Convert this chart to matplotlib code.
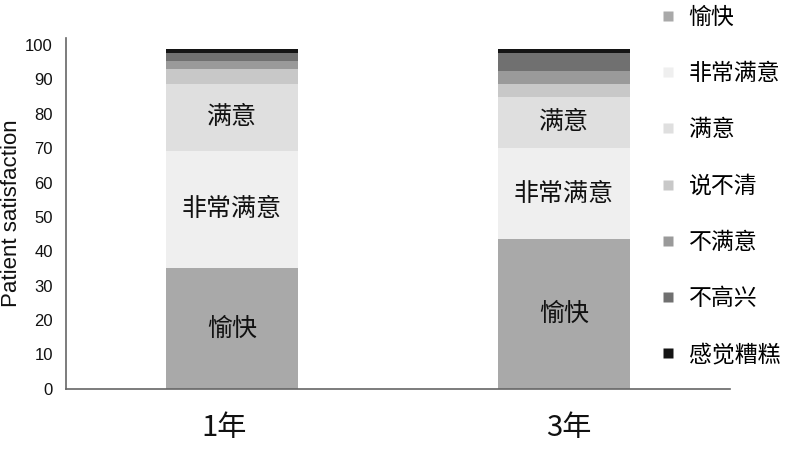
import matplotlib
matplotlib.use("Agg")
import matplotlib.pyplot as plt
from matplotlib.lines import Line2D
from matplotlib.transforms import ScaledTranslation
import numpy as np

plt.rcParams['font.family'] = ['Liberation Sans', 'Noto Sans CJK SC', 'DejaVu Sans']

years = ["1年", "3年"]
categories = ["愉快", "非常满意", "满意", "说不清", "不满意", "不高兴", "感觉糟糕"]
values_1yr = [35.1, 34.2, 19.4, 4.2, 2.4, 2.3, 1.2]
values_3yr = [43.6, 26.4, 15.0, 3.7, 3.8, 5.1, 1.2]
colors = ["#a9a9a9", "#efefef", "#dfdfdf", "#c8c8c8", "#9a9a9a", "#707070", "#141414"]
labelled = ["愉快", "非常满意", "满意"]
yticks = list(range(0, 101, 10))

fig = plt.figure(figsize=(8, 4.76), dpi=100)
ax = fig.add_axes([0.0825, 0.183, 0.83, 0.737])

data = np.array([values_1yr, values_3yr])
x = np.arange(len(years))
bottom = np.zeros(len(years))
for i, cat in enumerate(categories):
    ax.bar(x, data[:, i], bottom=bottom, width=0.4, color=colors[i], edgecolor='none')
    if cat in labelled:
        for j in range(len(years)):
            ax.text(x[j], bottom[j] + data[j, i] / 2, cat, ha='center', va='center',
                    fontsize=18, color='#111111',
                    family=['Noto Sans CJK SC', 'DejaVu Sans'])
    bottom += data[:, i]

ax.set_xlim(-0.5, 1.5)
ax.set_ylim(0, 102)
ax.set_yticks(yticks)
ax.set_yticklabels([str(t) for t in yticks], fontsize=12)
ax.set_xticks(x)
ax.set_xticklabels(years, fontsize=21, family=['Noto Sans CJK SC', 'DejaVu Sans'])
ax.tick_params(axis='both', length=0, colors='#111111')
ax.tick_params(axis='y', pad=9.5)
ax.tick_params(axis='x', pad=17)
# slight horizontal offsets of the category labels as in the reference
for lab, dx in zip(ax.get_xticklabels(), [-8, 5]):
    lab.set_transform(lab.get_transform() + ScaledTranslation(dx / 100, 0, fig.dpi_scale_trans))
ax.set_ylabel("Patient satisfaction", fontsize=16, color='#111111', labelpad=2)
for s in ['top', 'right']:
    ax.spines[s].set_visible(False)
for s in ['left', 'bottom']:
    ax.spines[s].set_color('#666666')
    ax.spines[s].set_linewidth(1.2)

handles = [Line2D([0], [0], marker='s', linestyle='none', markersize=7,
                  markerfacecolor=c, markeredgecolor='none') for c in colors]
leg = fig.legend(handles, categories, loc='upper left', bbox_to_anchor=(0.795, 1.031),
                 frameon=False, labelspacing=1.45, handlelength=1.0,
                 handletextpad=0.4, prop={'family': ['Noto Sans CJK SC', 'DejaVu Sans'], 'size': 16.5})

fig.savefig("out.png", dpi=100)
